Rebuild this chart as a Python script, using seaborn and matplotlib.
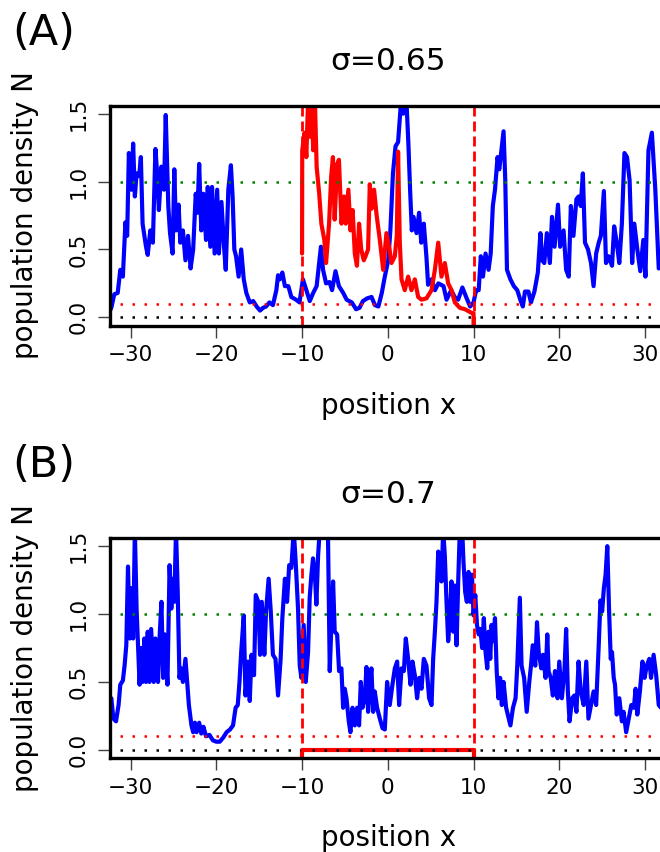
import numpy as np
import pandas as pd
import matplotlib
matplotlib.use("Agg")
import matplotlib.pyplot as plt
import seaborn as sns

# ---- data ----
# panel A, blue density
blue_a_x = [-32.4, -32.25, -31.9, -31.5, -31.2, -30.9, -30.6, -30.4, -30.2, -29.9, -29.7, -29.5,
            -29.3, -29.0, -28.8, -28.6, -28.2, -28.0, -27.7, -27.4, -27.1, -26.9, -26.7, -26.4,
            -26.1, -25.9, -25.6, -25.4, -25.1, -24.9, -24.7, -24.4, -24.2, -23.9, -23.6, -23.3,
            -23.0, -22.7, -22.4, -22.2, -22.0, -21.75, -21.5, -21.2, -21.0, -20.7, -20.5, -20.2,
            -19.9, -19.7, -19.4, -19.1, -18.9, -18.6, -18.3, -18.1, -17.9, -17.7, -17.4, -17.1,
            -16.8, -16.5, -16.1, -15.7, -15.3, -14.9, -14.55, -14.2, -13.8, -13.4, -13.0, -12.8,
            -12.6, -12.3, -12.0, -11.6, -11.25, -10.7, -10.3, -9.9, -9.5, -9.1, -8.7, -8.3,
            -8.0, -7.8, -7.55, -7.2, -6.8, -6.5, -6.1, -5.7, -5.2, -4.8, -4.2, -3.7,
            -3.3, -2.9, -2.4, -1.9, -1.5, -1.1, -0.7, -0.35, 0.05, 0.3, 0.6, 0.9,
            1.2, 1.5, 1.8, 2.1, 2.4, 2.6, 2.8, 3.0, 3.35, 3.65, 3.9, 4.2,
            4.5, 4.7, 5.1, 5.5, 5.9, 6.5, 6.85, 7.4, 7.8, 8.2, 8.7, 9.2,
            9.6, 10.0, 10.3, 10.6, 10.85, 11.1, 11.4, 11.75, 12.0, 12.25, 12.5, 12.8,
            13.0, 13.3, 13.5, 13.7, 13.9, 14.3, 14.7, 15.1, 15.45, 15.75, 16.0, 16.4,
            16.7, 17.1, 17.5, 17.8, 18.0, 18.25, 18.55, 18.9, 19.15, 19.45, 19.85, 20.1,
            20.5, 20.8, 21.1, 21.35, 21.65, 22.0, 22.25, 22.5, 22.75, 23.0, 23.35, 23.7,
            24.0, 24.3, 24.6, 24.85, 25.2, 25.45, 25.75, 26.15, 26.4, 26.7, 27.0, 27.3,
            27.6, 27.9, 28.2, 28.5, 28.75, 29.1, 29.45, 29.8, 30.05, 30.4, 30.8, 31.2,
            31.6, 32.0, 32.4]
blue_a_y = [0.05, 0.07, 0.17, 0.18, 0.35, 0.30, 0.70, 0.60, 1.21, 0.94, 1.28, 0.89,
            1.06, 1.04, 1.18, 0.69, 0.52, 0.46, 0.64, 0.55, 1.24, 1.06, 0.79, 1.11,
            0.94, 1.49, 0.82, 0.62, 0.47, 1.09, 0.64, 0.83, 0.55, 0.64, 0.42, 0.60,
            0.36, 0.50, 0.91, 0.77, 1.13, 0.64, 0.91, 0.57, 0.96, 0.52, 0.96, 0.47,
            0.94, 0.47, 0.85, 0.52, 0.35, 0.94, 1.12, 0.89, 0.50, 0.45, 0.30, 0.50,
            0.28, 0.18, 0.11, 0.12, 0.08, 0.05, 0.07, 0.08, 0.11, 0.09, 0.20, 0.31,
            0.28, 0.33, 0.23, 0.23, 0.15, 0.13, 0.11, 0.28, 0.20, 0.12, 0.18, 0.23,
            0.40, 0.52, 0.35, 0.25, 0.26, 0.20, 0.34, 0.23, 0.18, 0.13, 0.11, 0.06,
            0.07, 0.12, 0.14, 0.15, 0.09, 0.08, 0.18, 0.30, 0.42, 0.64, 1.06, 1.26,
            1.29, 1.55, 1.50, 1.70, 1.28, 0.94, 0.64, 0.74, 0.62, 0.77, 0.55, 0.69,
            0.45, 0.24, 0.28, 0.20, 0.25, 0.23, 0.13, 0.20, 0.15, 0.13, 0.22, 0.14,
            0.08, 0.11, 0.20, 0.20, 0.45, 0.30, 0.47, 0.35, 0.47, 0.82, 0.94, 1.18,
            1.09, 1.26, 1.37, 1.01, 0.35, 0.28, 0.23, 0.20, 0.13, 0.08, 0.19, 0.19,
            0.11, 0.19, 0.33, 0.62, 0.42, 0.40, 0.62, 0.40, 0.74, 0.52, 0.83, 0.52,
            0.64, 0.35, 0.30, 0.82, 0.60, 0.87, 0.89, 0.82, 1.06, 0.55, 0.50, 0.40,
            0.23, 0.47, 0.55, 0.60, 0.93, 0.40, 0.45, 0.38, 0.67, 0.55, 0.40, 0.69,
            1.21, 1.18, 1.01, 0.40, 0.69, 0.50, 0.34, 0.57, 0.30, 1.23, 1.36, 0.94,
            0.36, 0.40, 0.38]

# panel A, red density inside the patch [-10, 10]
red_a_x = [-10.0, -9.98, -9.7, -9.5, -9.3, -9.1, -8.9, -8.7, -8.5, -8.3, -8.0, -7.75,
           -7.4, -7.2, -6.85, -6.6, -6.4, -6.2, -5.9, -5.7, -5.4, -5.1, -4.9, -4.6,
           -4.35, -4.1, -3.85, -3.6, -3.35, -3.1, -2.8, -2.6, -2.3, -2.1, -1.9, -1.6,
           -1.3, -0.93, -0.54, -0.16, 0.2, 0.43, 0.82, 1.05, 1.2, 1.4, 1.6, 1.98,
           2.37, 2.76, 3.15, 3.54, 3.93, 4.51, 5.1, 5.49, 5.88, 6.26, 6.65, 7.04,
           7.43, 7.82, 8.4, 8.99, 9.57, 9.88, 10.0, 10.0]
red_a_y = [0.47, 1.23, 1.36, 1.18, 1.60, 1.33, 1.62, 1.23, 1.60, 1.11, 0.91, 0.69,
           0.57, 0.40, 0.69, 1.04, 1.18, 0.72, 1.13, 1.16, 0.69, 0.89, 0.69, 0.94,
           0.64, 0.79, 0.47, 0.38, 0.69, 0.50, 0.42, 0.45, 0.50, 0.98, 0.80, 0.94,
           0.75, 0.57, 0.35, 0.62, 0.50, 0.40, 0.45, 0.60, 1.22, 0.55, 0.28, 0.20,
           0.30, 0.20, 0.28, 0.15, 0.13, 0.14, 0.20, 0.35, 0.55, 0.30, 0.40, 0.25,
           0.20, 0.11, 0.07, 0.06, 0.04, 0.03, 0.03, -0.10]

# panel B, blue density
blue_b_x = [-32.4, -32.25, -32.0, -31.7, -31.4, -31.2, -30.9, -30.7, -30.5, -30.3, -30.1, -29.9,
            -29.7, -29.5, -29.3, -29.1, -28.95, -28.75, -28.6, -28.4, -28.2, -28.0, -27.8, -27.6,
            -27.3, -27.1, -26.8, -26.6, -26.4, -26.2, -26.0, -25.7, -25.45, -25.25, -25.05, -24.9,
            -24.7, -24.5, -24.3, -24.1, -23.9, -23.6, -23.4, -23.2, -22.9, -22.7, -22.5, -22.3,
            -22.0, -21.75, -21.5, -21.2, -20.8, -20.4, -20.0, -19.6, -19.2, -18.8, -18.4, -18.05,
            -17.75, -17.5, -17.3, -17.1, -16.8, -16.6, -16.3, -16.1, -15.9, -15.6, -15.4, -15.1,
            -14.9, -14.7, -14.4, -14.2, -13.9, -13.65, -13.4, -13.1, -12.8, -12.5, -12.3, -12.0,
            -11.75, -11.5, -11.25, -10.97, -10.74, -10.47, -10.27, -10.08, -9.81, -9.57, -9.30, -9.11,
            -8.91, -8.72, -8.52, -8.33, -8.13, -7.94, -7.5, -7.0, -6.77, -6.58, -6.38, -6.19,
            -5.91, -5.68, -5.41, -5.21, -5.02, -4.82, -4.55, -4.36, -4.12, -3.85, -3.58, -3.35,
            -3.15, -2.96, -2.68, -2.49, -2.30, -2.10, -1.91, -1.71, -1.52, -1.25, -0.93, -0.62,
            -0.35, -0.08, 0.23, 0.54, 0.82, 1.09, 1.32, 1.60, 1.87, 2.10, 2.37, 2.65,
            2.88, 3.15, 3.42, 3.66, 3.93, 4.20, 4.51, 4.82, 5.10, 5.29, 5.49, 5.68,
            5.88, 6.07, 6.26, 6.46, 6.65, 6.85, 7.04, 7.24, 7.43, 7.63, 7.82, 8.02,
            8.21, 8.40, 8.6, 8.83, 9.03, 9.22, 9.42, 9.61, 9.81, 10.0, 10.2, 10.4,
            10.6, 10.8, 11.0, 11.2, 11.4, 11.6, 11.75, 11.95, 12.1, 12.3, 12.5, 12.7,
            12.9, 13.1, 13.3, 13.5, 13.8, 14.1, 14.3, 14.6, 14.9, 15.1, 15.4, 15.6,
            15.9, 16.2, 16.5, 16.7, 16.9, 17.2, 17.4, 17.6, 17.9, 18.1, 18.4, 18.6,
            18.75, 19.0, 19.25, 19.5, 19.8, 20.0, 20.3, 20.6, 20.8, 21.0, 21.2, 21.5,
            21.75, 22.0, 22.25, 22.5, 22.85, 23.15, 23.4, 23.7, 24.0, 24.3, 24.6, 24.8,
            25.0, 25.2, 25.4, 25.6, 25.8, 26.0, 26.15, 26.35, 26.5, 26.7, 27.0, 27.3,
            27.5, 27.8, 28.1, 28.4, 28.7, 28.9, 29.1, 29.4, 29.7, 29.95, 30.2, 30.5,
            30.7, 31.0, 31.3, 31.6, 32.0, 32.4]
blue_b_y = [0.33, 0.38, 0.23, 0.21, 0.33, 0.48, 0.51, 0.62, 0.77, 1.35, 0.82, 1.19,
            0.82, 1.62, 1.04, 0.72, 0.48, 0.75, 0.50, 0.82, 0.50, 0.87, 0.50, 0.89,
            0.50, 0.82, 0.50, 0.85, 1.09, 0.53, 0.85, 0.48, 1.36, 1.04, 1.26, 1.09,
            1.62, 1.16, 0.53, 0.60, 0.50, 0.67, 0.50, 0.33, 0.18, 0.13, 0.20, 0.13,
            0.20, 0.12, 0.17, 0.10, 0.11, 0.07, 0.06, 0.06, 0.09, 0.13, 0.15, 0.18,
            0.31, 0.33, 0.50, 0.72, 0.99, 0.40, 0.65, 0.36, 0.70, 0.55, 1.14, 1.09,
            0.70, 1.09, 0.70, 1.02, 1.26, 1.02, 0.70, 0.67, 0.40, 0.67, 0.97, 1.26,
            1.09, 1.36, 1.34, 1.62, 1.38, 1.04, 0.62, 0.53, 0.92, 0.50, 0.72, 1.12,
            1.29, 1.41, 1.31, 1.07, 1.43, 1.62, 1.80, 1.70, 0.58, 0.92, 1.24, 0.87,
            0.85, 0.58, 0.60, 0.31, 0.45, 0.38, 0.21, 0.13, 0.31, 0.18, 0.31, 0.18,
            0.50, 0.31, 0.38, 0.61, 0.28, 0.48, 0.60, 0.28, 0.43, 0.31, 0.23, 0.16,
            0.15, 0.50, 0.33, 0.48, 0.60, 0.65, 0.33, 0.60, 0.58, 0.82, 0.67, 0.48,
            0.65, 0.55, 0.38, 0.53, 0.45, 0.67, 0.62, 0.38, 0.33, 0.67, 0.87, 1.09,
            1.46, 1.38, 1.24, 1.62, 1.43, 1.09, 0.80, 0.97, 1.24, 0.87, 1.21, 0.77,
            1.24, 1.62, 1.75, 1.38, 1.16, 1.09, 1.31, 1.09, 1.29, 0.99, 1.14, 0.92,
            0.85, 0.89, 0.75, 0.97, 0.72, 0.60, 0.87, 0.67, 0.92, 0.80, 0.97, 0.58,
            0.38, 0.53, 0.33, 0.50, 0.31, 0.23, 0.18, 0.31, 0.38, 0.62, 1.12, 0.62,
            0.53, 0.28, 0.50, 0.62, 0.77, 0.62, 0.94, 0.72, 0.60, 0.70, 0.53, 0.85,
            0.58, 0.53, 0.40, 0.58, 0.38, 0.65, 0.38, 0.58, 0.89, 0.43, 0.21, 0.38,
            0.40, 0.28, 0.65, 0.43, 0.33, 0.65, 0.23, 0.33, 0.43, 0.33, 0.77, 1.10,
            1.02, 1.19, 1.29, 1.50, 1.04, 0.67, 0.72, 0.53, 0.48, 0.26, 0.38, 0.21,
            0.28, 0.13, 0.23, 0.33, 0.31, 0.45, 0.26, 0.43, 0.65, 0.53, 0.62, 0.67,
            0.53, 0.70, 0.55, 0.33, 0.30, 0.32]

# panel B, red density (extinct inside the patch)
red_b_x = [-10.0, -10.0, 10.0, 10.0]
red_b_y = [-0.10, 0.0, 0.0, -0.10]

patch_edges = [-10, 10]
domain_x = [-31.25, 31.25]
ref_levels = [1.0, 0.1, 0.0]
ref_colors = ["#008000", "red", "black"]
x_ticks = [-30, -20, -10, 0, 10, 20, 30]
y_ticks = [0.0, 0.5, 1.0, 1.5]
titles = ["σ=0.65", "σ=0.7"]
panel_tags = ["(A)", "(B)"]

sns.set_theme(style="ticks")
plt.rcParams["font.family"] = ["DejaVu Sans"]
plt.rcParams["text.color"] = "black"

W, H = 660, 852
fig = plt.figure(figsize=(W / 100, H / 100), dpi=100)


def px(x, y):
    return x / W, 1 - y / H


panels = [
    dict(top=105.5, blue=(blue_a_x, blue_a_y), red=(red_a_x, red_a_y)),
    dict(top=538.0, blue=(blue_b_x, blue_b_y), red=(red_b_x, red_b_y)),
]

for i, p in enumerate(panels):
    top = p["top"]
    bottom = top + 220
    ax = fig.add_axes([110 / W, 1 - bottom / H, 555.6 / W, 220 / H])

    sns.lineplot(x=p["blue"][0], y=p["blue"][1], ax=ax, color="#0000ff", lw=3.0,
                 sort=False, estimator=None)
    sns.lineplot(x=p["red"][0], y=p["red"][1], ax=ax, color="#ff0000", lw=3.0,
                 sort=False, estimator=None)

    for lvl, col in zip(ref_levels, ref_colors):
        ax.plot(domain_x, [lvl, lvl], color=col, lw=1.8, linestyle=(0, (1, 3.8)))
    for xe in patch_edges:
        ax.axvline(xe, color="#ff0000", lw=2.0, linestyle=(0, (3.6, 1.8)))

    ax.set_xlim(-32.4, 32.4)
    ax.set_ylim(-0.06, 1.56)
    ax.set_xticks(x_ticks)
    ax.set_yticks(y_ticks)
    ax.set_xticklabels([f"{t}".replace("-", "\u2212") for t in x_ticks])
    ax.set_yticklabels([f"{t:.1f}" for t in y_ticks])
    ax.set(xlabel="", ylabel="")
    ax.tick_params(axis="both", length=8.6, width=1.0, color="0.25",
                   labelsize=15.5, labelcolor="black")
    ax.tick_params(axis="x", pad=5.5)
    ax.tick_params(axis="y", pad=7, labelrotation=90)
    for lab in ax.get_yticklabels():
        lab.set_va("center")
    for side in ["left", "top", "bottom"]:
        ax.spines[side].set_visible(True)
        ax.spines[side].set_linewidth(2.4)
        ax.spines[side].set_color("black")
    ax.spines["right"].set_visible(False)
    ax.grid(False)

    fig.text(*px(387.7, top - 35.5), titles[i], ha="center", va="baseline", fontsize=22.5)
    fig.text(*px(12, top - 60.5), panel_tags[i], ha="left", va="baseline", fontsize=31)
    fig.text(*px(388.5, bottom + 88.5), "position x", ha="center", va="baseline", fontsize=20)
    fig.text(*px(33, top + 110), "population density N", rotation=90,
             rotation_mode="anchor", ha="center", va="baseline", fontsize=20)

fig.savefig("out.png", dpi=100)
